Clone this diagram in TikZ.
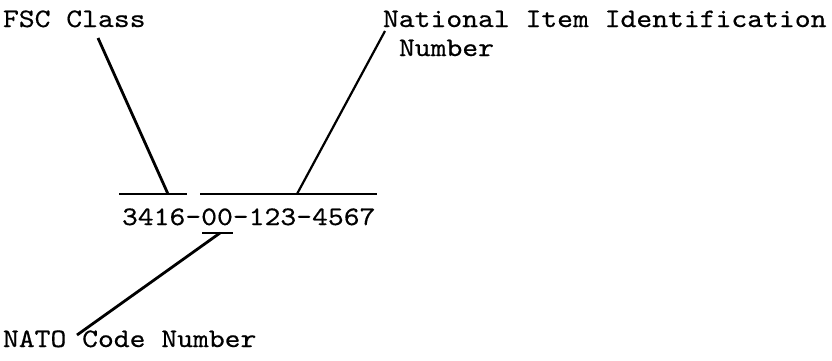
\documentclass[tikz,border=0pt]{standalone}
\usepackage{fontspec}
\setmonofont{lmmono10-regular.otf}[FakeStretch=1.13,FakeBold=0.5]
\begin{document}
\begin{tikzpicture}[x=1pt,y=-1pt,
  lbl/.style={inner sep=0pt,outer sep=0pt,anchor=base west,font=\ttfamily\fontsize{26.7}{29}\selectfont},
  bar/.style={line width=2.8pt},
  lead/.style={line width=2.8pt}]
\useasboundingbox (0,0) rectangle (832,360);
% labels
\node[lbl] (fsc) at (3,27) {FSC Class};
\node[lbl] (nii) at (383,27) {National Item Identification};
\node[lbl] (niinum) at (399,56) {Number};
\node[lbl] (num) at (122,225) {3416-00-123-4567};
\node[lbl] (nato) at (3,347) {NATO Code Number};
% bars
\coordinate (lbA) at (119,194); \coordinate (lbB) at (187,194);
\coordinate (rbA) at (200,194); \coordinate (rbB) at (377,194);
\coordinate (sbA) at (202,233); \coordinate (sbB) at (233,233);
\draw[bar] (lbA) -- (lbB);
\draw[bar] (rbA) -- (rbB);
\draw[bar] (sbA) -- (sbB);
% leaders
\coordinate (fscEnd) at (98,38); \coordinate (fscBar) at (168,194);
\coordinate (niiEnd) at (385,31); \coordinate (niiBar) at (297,194);
\coordinate (natoEnd) at (77,335); \coordinate (natoBar) at (220,233);
\draw[lead] (fscEnd) -- (fscBar);
\draw[lead,line width=2.2pt] (niiBar) -- (niiEnd);
\draw[lead] (natoBar) -- (natoEnd);
\end{tikzpicture}
\end{document}
